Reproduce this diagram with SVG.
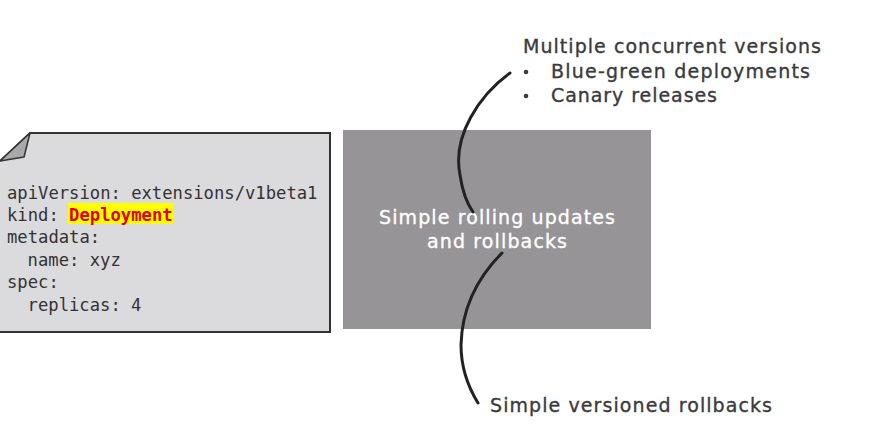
<svg xmlns="http://www.w3.org/2000/svg" width="881" height="447" viewBox="0 0 881 447">
<style>
.code{font-family:"DejaVu Sans Mono","Liberation Mono",monospace;font-size:17.2px;fill:#333}
.lbl{font-family:"DejaVu Sans","Noto Sans",sans-serif;font-size:19px;fill:#3a3a3e;stroke:#3a3a3e;stroke-width:0.35}
.box{font-family:"DejaVu Sans","Noto Sans",sans-serif;font-size:19px;fill:#ffffff;stroke:#ffffff;stroke-width:0.35}
.conn{fill:none;stroke:#222;stroke-width:3;stroke-linecap:round}
</style>
<rect width="881" height="447" fill="#ffffff"/>
<g id="doc">
<path d="M0,161 L30,133 L330,133 L330,332 L0,332" fill="#dbdadc" stroke="#333" stroke-width="2"/>
<path d="M0,161 L30,133 L24,157 Z" fill="#a9a9ab" stroke="#333" stroke-width="1.5" stroke-linejoin="round"/>
<rect x="68" y="203" width="105" height="21" fill="#ffff00"/>
<text class="code" x="7" y="199">apiVersion: extensions/v1beta1</text>
<text class="code" x="7" y="221">kind: <tspan font-weight="bold" fill="#e00000">Deployment</tspan></text>
<text class="code" x="7" y="243">metadata:</text>
<text class="code" x="27.6" y="266">name: xyz</text>
<text class="code" x="7" y="288">spec:</text>
<text class="code" x="27.6" y="311">replicas: 4</text>
</g>
<g id="box">
<rect x="343" y="130" width="308" height="199" fill="#969496"/>
<text class="box" x="379" y="224" textLength="236">Simple rolling updates</text>
<text class="box" x="427" y="248" textLength="140">and rollbacks</text>
</g>
<g id="top-label">
<text class="lbl" x="523" y="53" textLength="298">Multiple concurrent versions</text>
<circle cx="526" cy="72" r="2.3" fill="#3a3a3e"/>
<text class="lbl" x="551" y="78" textLength="259">Blue-green deployments</text>
<circle cx="526" cy="96" r="2.3" fill="#3a3a3e"/>
<text class="lbl" x="551" y="102" textLength="166">Canary releases</text>
</g>
<g id="bottom-label">
<text class="lbl" x="490" y="412" textLength="282">Simple versioned rollbacks</text>
</g>
<g id="connectors">
<path class="conn" d="M510,73 C480,95 452,135 460,175 C463,195 468,205 473,212"/>
<path class="conn" d="M502,253 C480,275 462,305 461,345 C461,370 470,390 478,403"/>
</g>
</svg>
